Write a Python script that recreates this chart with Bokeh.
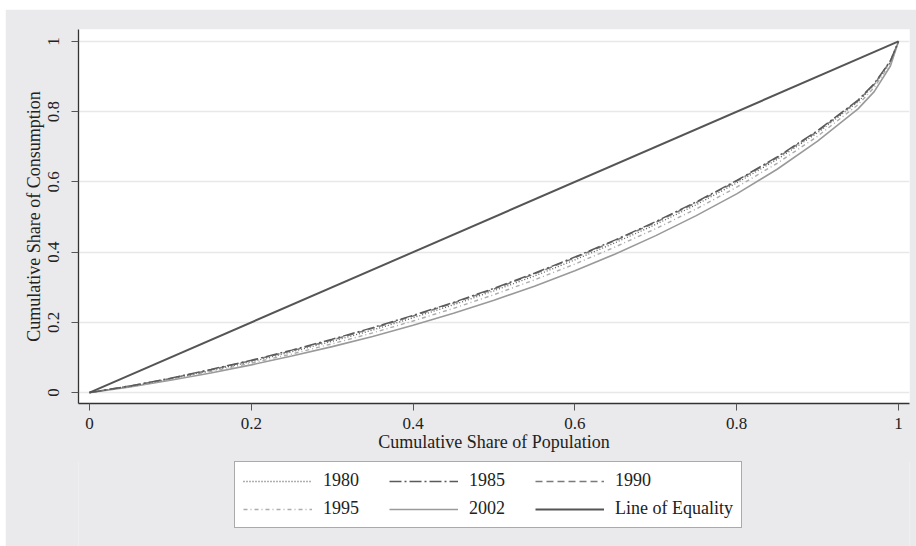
from bokeh.plotting import figure
from bokeh.layouts import column
from bokeh.models import Legend, LegendItem, Range1d, FixedTicker, ColumnDataSource
from bokeh.embed import file_html
from bokeh.resources import INLINE

# Cumulative share of population (x)
pop = [0, 0.05, 0.10, 0.15, 0.20, 0.25, 0.30, 0.35, 0.40, 0.45, 0.50,
       0.55, 0.60, 0.65, 0.70, 0.75, 0.80, 0.85, 0.90, 0.95, 0.97, 0.99, 1.0]

# Cumulative share of consumption
c1980 = [0, 0.018, 0.039, 0.063, 0.088, 0.116, 0.146, 0.178, 0.213, 0.250, 0.290,
         0.332, 0.378, 0.427, 0.479, 0.535, 0.597, 0.664, 0.740, 0.828, 0.876, 0.942, 1.0]
c1985 = [0, 0.019, 0.041, 0.066, 0.092, 0.121, 0.152, 0.185, 0.220, 0.257, 0.297,
         0.340, 0.386, 0.435, 0.487, 0.543, 0.604, 0.671, 0.746, 0.833, 0.880, 0.945, 1.0]
c1990 = [0, 0.019, 0.040, 0.065, 0.091, 0.119, 0.150, 0.183, 0.218, 0.255, 0.295,
         0.338, 0.384, 0.433, 0.485, 0.541, 0.602, 0.669, 0.744, 0.831, 0.878, 0.944, 1.0]
c1995 = [0, 0.017, 0.037, 0.060, 0.084, 0.110, 0.139, 0.170, 0.204, 0.240, 0.279,
         0.321, 0.366, 0.415, 0.467, 0.523, 0.585, 0.653, 0.730, 0.820, 0.869, 0.938, 1.0]
c2002 = [0, 0.016, 0.035, 0.056, 0.079, 0.104, 0.131, 0.160, 0.192, 0.226, 0.263,
         0.303, 0.347, 0.395, 0.447, 0.504, 0.566, 0.636, 0.716, 0.808, 0.857, 0.930, 1.0]
equality = [0, 1.0]
equality_x = [0, 1.0]

series_names = ["1980", "1985", "1990", "1995", "2002", "Line of Equality"]
ticks = [0, 0.2, 0.4, 0.6, 0.8, 1]
tick_labels = {0: "0", 0.2: "0.2", 0.4: "0.4", 0.6: "0.6", 0.8: "0.8", 1: "1"}

FONT = "Liberation Serif"
BG = "#eaeaec"

STYLES = {
    "1980": dict(line_color="#606060", line_width=1.3, line_dash="1 2"),
    "1985": dict(line_color="#5a5a5a", line_width=1.5, line_dash="12 3 2 3"),
    "1990": dict(line_color="#7a7a7a", line_width=1.5, line_dash="7 4"),
    "1995": dict(line_color="#acacac", line_width=1.4, line_dash="4 3 1 3"),
    "2002": dict(line_color="#9a9a9a", line_width=1.6),
    "Line of Equality": dict(line_color="#555555", line_width=2),
}

p = figure(width=911, height=453, output_backend="svg", toolbar_location=None,
           x_range=Range1d(-0.0136, 1.0136), y_range=Range1d(-0.031, 1.034),
           min_border_left=73, min_border_right=7, min_border_top=20, min_border_bottom=59)
p.border_fill_color = BG
p.background_fill_color = "white"
p.outline_line_color = None

src = ColumnDataSource(dict(x=pop, a=c1980, b=c1985, c=c1990, d=c1995, e=c2002))

p.line("x", "e", source=src, **STYLES["2002"])
p.line("x", "d", source=src, **STYLES["1995"])
p.line("x", "a", source=src, **STYLES["1980"])
p.line("x", "c", source=src, **STYLES["1990"])
p.line("x", "b", source=src, **STYLES["1985"])
p.line(equality_x, equality, **STYLES["Line of Equality"])

for ax in (p.xaxis[0], p.yaxis[0]):
    ax.ticker = FixedTicker(ticks=ticks)
    ax.major_label_overrides = tick_labels
    ax.minor_tick_line_color = None
    ax.major_label_text_font = FONT
    ax.major_label_text_font_size = "17px"
    ax.major_label_text_color = "#222222"
    ax.axis_label_text_font = FONT
    ax.axis_label_text_font_size = "18px"
    ax.axis_label_text_font_style = "normal"
    ax.axis_label_text_color = "#222222"
    ax.axis_line_color = "#333333"
    ax.axis_line_width = 1.3
    ax.major_tick_line_color = "#555555"
    ax.major_tick_out = 7
    ax.major_tick_in = 0

p.xaxis.axis_label = "Cumulative Share of Population"
p.yaxis.axis_label = "Cumulative Share of Consumption"
p.yaxis.major_label_orientation = "vertical"
p.xaxis.major_label_standoff = 7
p.xaxis.axis_label_standoff = 0
p.yaxis.major_label_standoff = 12
p.yaxis.axis_label_standoff = 2

p.xgrid.grid_line_color = None
p.ygrid.grid_line_color = "#e8e8e8"
p.ygrid.grid_line_width = 1.5

# Legend panel (second figure under the plot, same background)
lg = figure(width=911, height=85, output_backend="svg", toolbar_location=None,
            x_range=Range1d(0, 1), y_range=Range1d(0, 1),
            x_axis_type=None, y_axis_type=None, margin=(-1, 0, 0, 0),
            min_border_left=0, min_border_right=0, min_border_top=0, min_border_bottom=0)
lg.border_fill_color = BG
lg.background_fill_color = BG
lg.outline_line_color = None
lg.xgrid.visible = False
lg.ygrid.visible = False

items = []
for name in series_names:
    r = lg.line([5, 6], [5, 6], **STYLES[name])
    items.append(LegendItem(label=name, renderers=[r]))

legend = Legend(items=items, ncols=3, orientation="horizontal", location=(156, 18))
legend.label_text_font = FONT
legend.label_text_font_size = "18px"
legend.label_text_color = "#222222"
legend.glyph_width = 69
legend.glyph_height = 20
legend.label_height = 20
legend.label_width = 59
legend.label_standoff = 11
legend.spacing = 7
legend.padding = 8
legend.margin = 0
legend.border_line_color = "#555555"
legend.border_line_width = 1.5
legend.background_fill_color = "white"
legend.background_fill_alpha = 1
lg.add_layout(legend, "center")

layout = column(p, lg, spacing=0, margin=(9, 0, 0, 5))
open("out.html", "w").write(file_html(layout, INLINE))
